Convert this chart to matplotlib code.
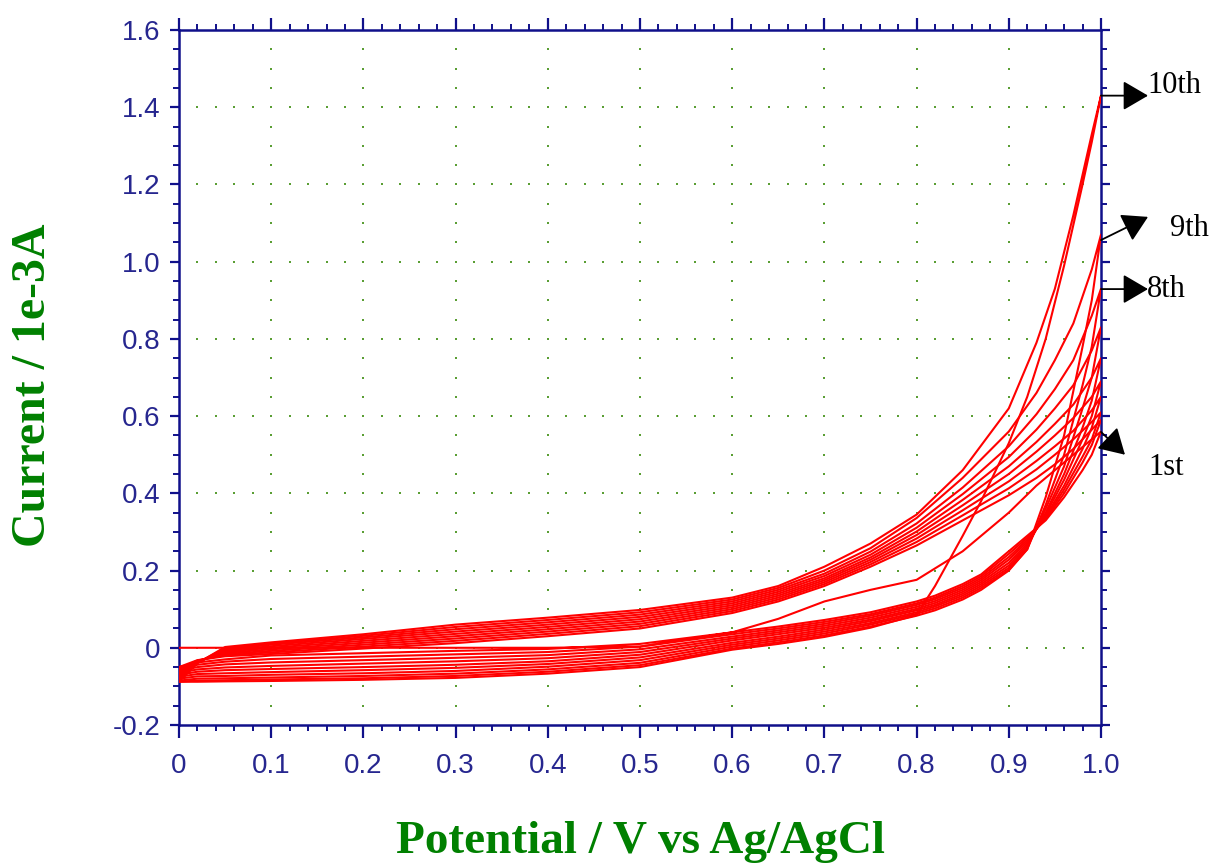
import matplotlib
matplotlib.use("Agg")
import matplotlib.pyplot as plt
import numpy as np
from matplotlib.ticker import MultipleLocator, FixedLocator

# ---------------- data ----------------
E_fwd = [0.0, 0.02, 0.05, 0.1, 0.2, 0.3, 0.4, 0.5, 0.6, 0.65, 0.7, 0.75, 0.8,
         0.85, 0.9, 0.93, 0.95, 0.97, 0.99, 1.0]
E_rev = [1.0, 0.99, 0.98, 0.96, 0.94, 0.92, 0.9, 0.87, 0.85, 0.82, 0.8, 0.75,
         0.7, 0.65, 0.6, 0.5, 0.4, 0.3, 0.2, 0.1, 0.05, 0.02, 0.0]

fwd_1 = [0.0, 0.0, 0.0, 0.0, 0.0, 0.0, 0.0, 0.003, 0.04, 0.075, 0.12, 0.15, 0.176, 0.25, 0.35, 0.42, 0.46, 0.50, 0.54, 0.56]
fwd_2 = [-0.050, -0.032, -0.022, -0.016, -0.002, 0.012, 0.030, 0.050, 0.090, 0.120, 0.160, 0.210, 0.265, 0.330, 0.395, 0.440, 0.475, 0.515, 0.565, 0.59]
fwd_3 = [-0.055, -0.033, -0.019, -0.012, 0.003, 0.018, 0.036, 0.056, 0.095, 0.125, 0.165, 0.216, 0.274, 0.343, 0.413, 0.462, 0.500, 0.540, 0.585, 0.61]
fwd_4 = [-0.060, -0.034, -0.016, -0.008, 0.008, 0.024, 0.042, 0.062, 0.100, 0.130, 0.170, 0.222, 0.283, 0.356, 0.431, 0.484, 0.522, 0.562, 0.615, 0.65]
fwd_5 = [-0.065, -0.035, -0.013, -0.004, 0.013, 0.030, 0.048, 0.068, 0.105, 0.135, 0.175, 0.228, 0.292, 0.369, 0.450, 0.508, 0.550, 0.595, 0.650, 0.69]
fwd_6 = [-0.070, -0.036, -0.010, 0.000, 0.018, 0.036, 0.054, 0.074, 0.110, 0.140, 0.180, 0.234, 0.301, 0.383, 0.470, 0.533, 0.580, 0.630, 0.700, 0.75]
fwd_7 = [-0.075, -0.037, -0.007, 0.004, 0.023, 0.042, 0.060, 0.080, 0.115, 0.145, 0.186, 0.241, 0.311, 0.398, 0.494, 0.565, 0.620, 0.680, 0.770, 0.83]
fwd_8 = [-0.080, -0.038, -0.004, 0.008, 0.027, 0.048, 0.066, 0.086, 0.120, 0.150, 0.192, 0.249, 0.322, 0.415, 0.522, 0.605, 0.670, 0.745, 0.860, 0.93]
fwd_9 = [-0.085, -0.039, -0.001, 0.011, 0.031, 0.054, 0.072, 0.092, 0.125, 0.155, 0.200, 0.258, 0.336, 0.440, 0.560, 0.660, 0.745, 0.840, 0.980, 1.07]
fwd_10 = [-0.088, -0.040, 0.002, 0.014, 0.035, 0.060, 0.078, 0.098, 0.130, 0.160, 0.210, 0.270, 0.345, 0.460, 0.620, 0.790, 0.930, 1.120, 1.330, 1.43]

rev_1 = [0.56, 0.50, 0.46, 0.39, 0.33, 0.290, 0.250, 0.190, 0.165, 0.135, 0.120, 0.092, 0.072, 0.055, 0.040, 0.010, -0.003, -0.008, -0.014, -0.020, -0.030, -0.038, -0.050]
rev_2 = [0.59, 0.525, 0.48, 0.40, 0.333, 0.285, 0.243, 0.185, 0.160, 0.130, 0.115, 0.087, 0.067, 0.050, 0.035, 0.003, -0.011, -0.017, -0.023, -0.029, -0.036, -0.044, -0.055]
rev_3 = [0.61, 0.54, 0.495, 0.41, 0.336, 0.280, 0.235, 0.180, 0.155, 0.126, 0.111, 0.083, 0.062, 0.045, 0.029, -0.004, -0.019, -0.026, -0.032, -0.038, -0.043, -0.050, -0.060]
rev_4 = [0.65, 0.57, 0.515, 0.42, 0.340, 0.275, 0.228, 0.175, 0.150, 0.121, 0.106, 0.078, 0.057, 0.040, 0.024, -0.011, -0.027, -0.035, -0.041, -0.047, -0.051, -0.056, -0.065]
rev_5 = [0.69, 0.60, 0.54, 0.435, 0.345, 0.270, 0.220, 0.170, 0.145, 0.116, 0.101, 0.073, 0.052, 0.035, 0.019, -0.018, -0.035, -0.044, -0.050, -0.055, -0.058, -0.062, -0.070]
rev_6 = [0.75, 0.64, 0.57, 0.45, 0.350, 0.265, 0.213, 0.165, 0.140, 0.111, 0.097, 0.069, 0.047, 0.029, 0.013, -0.025, -0.042, -0.052, -0.058, -0.063, -0.066, -0.068, -0.075]
rev_7 = [0.83, 0.70, 0.62, 0.47, 0.360, 0.260, 0.207, 0.160, 0.135, 0.107, 0.092, 0.064, 0.042, 0.024, 0.008, -0.032, -0.049, -0.060, -0.066, -0.070, -0.073, -0.074, -0.080]
rev_8 = [0.93, 0.78, 0.68, 0.50, 0.370, 0.255, 0.202, 0.155, 0.130, 0.102, 0.088, 0.060, 0.037, 0.019, 0.003, -0.039, -0.056, -0.067, -0.073, -0.077, -0.079, -0.080, -0.085]
rev_9 = [1.07, 0.90, 0.78, 0.55, 0.390, 0.255, 0.200, 0.150, 0.125, 0.097, 0.083, 0.055, 0.032, 0.014, -0.002, -0.045, -0.062, -0.073, -0.079, -0.082, -0.084, -0.085, -0.088]
rev_10 = [1.43, 1.31, 1.20, 0.99, 0.80, 0.65, 0.53, 0.38, 0.29, 0.16, 0.085, 0.052, 0.028, 0.010, -0.005, -0.050, -0.067, -0.078, -0.083, -0.086, -0.087, -0.088, -0.088]

forward_branches = [fwd_1, fwd_2, fwd_3, fwd_4, fwd_5, fwd_6, fwd_7, fwd_8, fwd_9, fwd_10]
reverse_branches = [rev_1, rev_2, rev_3, rev_4, rev_5, rev_6, rev_7, rev_8, rev_9, rev_10]

x_ticks = [0.0, 0.1, 0.2, 0.3, 0.4, 0.5, 0.6, 0.7, 0.8, 0.9, 1.0]
x_tick_labels = ["0", "0.1", "0.2", "0.3", "0.4", "0.5", "0.6", "0.7", "0.8", "0.9", "1.0"]
y_ticks = [-0.2, 0.0, 0.2, 0.4, 0.6, 0.8, 1.0, 1.2, 1.4, 1.6]
y_tick_labels = ["-0.2", "0", "0.2", "0.4", "0.6", "0.8", "1.0", "1.2", "1.4", "1.6"]

# annotation labels: (text, arrow tail, arrow tip, text position)
ann_labels = ["10th", "9th", "8th", "1st"]
ann_tail = [(1.0, 1.43), (1.0, 1.056), (1.0, 0.929), (1.0, 0.559)]
ann_tip = [(1.051, 1.43), (1.051, 1.116), (1.051, 0.929), (1.026, 0.50)]
ann_text_pos = [(1.050, 1.455), (1.075, 1.087), (1.050, 0.929), (1.051, 0.466)]

# ---------------- figure ----------------
W, H = 1213, 864
fig = plt.figure(figsize=(W / 100, H / 100), dpi=100)
fig.patch.set_facecolor("white")
ax = fig.add_axes([179 / W, (H - 725) / H, (1101 - 179) / W, (725 - 30) / H])
ax.set_xlim(0, 1.0)
ax.set_ylim(-0.2, 1.6)

navy = "#10108a"
label_blue = "#26268f"
grid_green = "#5a9e34"

# dotted grid (dots at minor positions along major lines)
xminor = np.arange(0.02, 0.99, 0.02)
yminor = np.arange(-0.15, 1.56, 0.05)
gx, gy = [], []
for xm in x_ticks[1:-1]:
    gx += [xm] * len(yminor)
    gy += list(yminor)
for ym in y_ticks[1:-1]:
    gx += list(xminor)
    gy += [ym] * len(xminor)
ax.plot(gx, gy, linestyle="none", marker="s", markersize=2.0,
        markeredgewidth=0, color=grid_green, zorder=1)

for f, r in zip(forward_branches, reverse_branches):
    ax.plot(E_fwd + E_rev, f + r, color="#ff0000", lw=1.5, zorder=3)

for s in ax.spines.values():
    s.set_color(navy)
    s.set_linewidth(1.8)

ax.xaxis.set_major_locator(FixedLocator(x_ticks))
ax.set_xticklabels(x_tick_labels)
ax.yaxis.set_major_locator(FixedLocator(y_ticks))
ax.set_yticklabels(y_tick_labels)
ax.xaxis.set_minor_locator(MultipleLocator(0.02))
ax.yaxis.set_minor_locator(MultipleLocator(0.05))

ax.tick_params(axis="both", which="both", direction="out", color=navy,
               top=True, right=True, labeltop=False, labelright=False)
ax.tick_params(axis="x", which="major", length=9, width=1.6, pad=11,
               labelsize=20, labelcolor=label_blue)
ax.tick_params(axis="x", which="minor", length=4.5, width=1.4)
ax.tick_params(axis="y", which="major", length=6.5, width=1.6, pad=7,
               labelsize=20, labelcolor=label_blue)
ax.tick_params(axis="y", which="minor", length=4, width=1.4)
for lab in ax.get_xticklabels() + ax.get_yticklabels():
    lab.set_fontfamily("Liberation Sans")

fig.text(640 / W, (H - 853) / H, "Potential / V vs Ag/AgCl", ha="center",
         va="baseline", fontsize=34, fontweight="bold",
         family="Liberation Serif", color="#008000")
fig.text(33 / W, 1 - 385 / H, "Current / 1e-3A", ha="center", va="center",
         rotation=90, fontsize=34.5, fontweight="bold",
         family="Liberation Serif", color="#008000")

for lab, tail, tip, tp in zip(ann_labels, ann_tail, ann_tip, ann_text_pos):
    ax.annotate("", xy=tip, xytext=tail, xycoords="data",
                annotation_clip=False,
                arrowprops=dict(arrowstyle="-|>,head_length=0.65,head_width=0.38",
                                mutation_scale=24, color="black", lw=1.3,
                                shrinkA=0, shrinkB=0))
    ax.text(tp[0], tp[1], lab, ha="left", va="center", fontsize=22,
            family="Liberation Serif", color="black", clip_on=False)

fig.savefig("out.png", dpi=100, facecolor="white")
